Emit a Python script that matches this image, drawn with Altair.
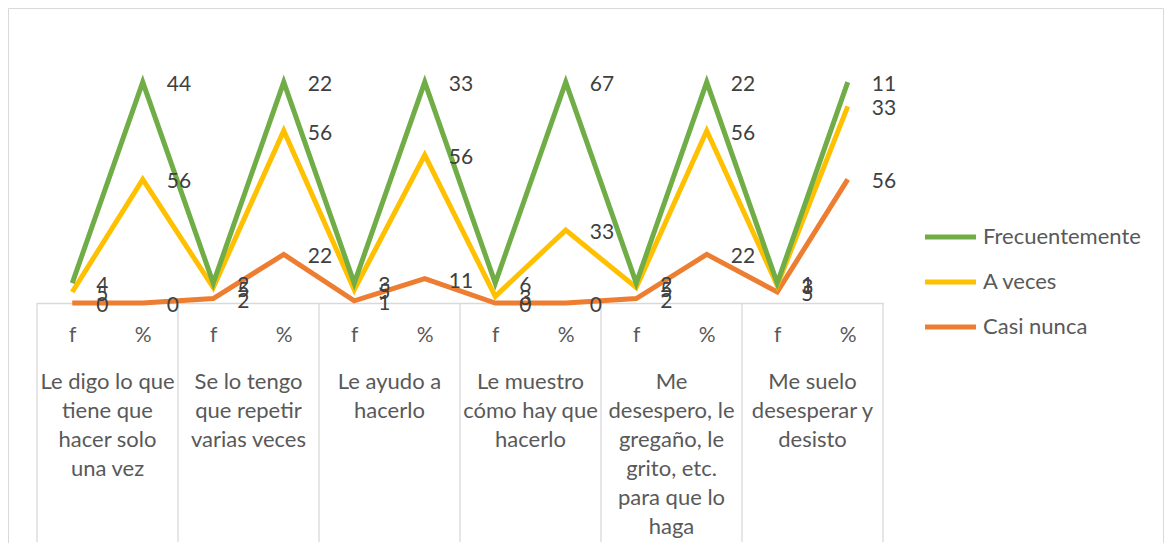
import altair as alt
import pandas as pd

group_labels = [
    "Le digo lo que\ntiene  que\nhacer solo\nuna vez",
    "Se lo tengo\nque repetir\nvarias veces",
    "Le ayudo a\nhacerlo",
    "Le muestro\ncómo hay que\nhacerlo",
    "Me\ndesespero, le\ngregaño, le\ngrito, etc.\npara que lo\nhaga",
    "Me suelo\ndesesperar y\ndesisto",
]
measures = ["f", "%"]
legend_order = ["Frecuentemente", "A veces", "Casi nunca"]
stack_order = ["Casi nunca", "A veces", "Frecuentemente"]
colors = ["#70AD47", "#FFC000", "#ED7D31"]

frecuentemente_f = [4, 2, 3, 6, 2, 1]
frecuentemente_p = [44, 22, 33, 67, 22, 11]
a_veces_f = [5, 5, 5, 3, 5, 3]
a_veces_p = [56, 56, 56, 33, 56, 33]
casi_nunca_f = [0, 2, 1, 0, 2, 5]
casi_nunca_p = [0, 22, 11, 0, 22, 56]

values = {
    "Frecuentemente": (frecuentemente_f, frecuentemente_p),
    "A veces": (a_veces_f, a_veces_p),
    "Casi nunca": (casi_nunca_f, casi_nunca_p),
}

pos_order = [f"{g}|{m}" for g in range(len(group_labels)) for m in measures]

rows = []
for k, s in enumerate(stack_order):
    fv, pv = values[s]
    for g in range(len(group_labels)):
        rows.append({"pos": f"{g}|f", "series": s, "value": fv[g], "order": k})
        rows.append({"pos": f"{g}|%", "series": s, "value": pv[g], "order": k})
df = pd.DataFrame(rows)

grp_df = pd.DataFrame({"pos": [f"{g}|f" for g in range(len(group_labels))], "label": group_labels})
end_df = pd.DataFrame({"pos": [pos_order[-1]]})
leg_df = pd.DataFrame({"series": legend_order})

FONT = "Lato"
TXT = "#595959"
STEP_HALF = 846 / 12 / 2

x_enc = alt.X(
    "pos:N",
    sort=pos_order,
    scale=alt.Scale(type="point", padding=0.5, domain=pos_order),
    axis=alt.Axis(
        title=None,
        labelExpr="split(datum.label, '|')[1]",
        domainColor="#d9d9d9",
        domainWidth=1.3,
        ticks=False,
        labelPadding=32,
        labelBaseline="middle",
        labelFontSize=21,
        labelColor=TXT,
        labelFont=FONT,
        labelAngle=0,
        grid=False,
    ),
)
y_enc = alt.Y("y1:Q", scale=alt.Scale(domain=[0, 120]), axis=None)
color_enc = alt.Color(
    "series:N", scale=alt.Scale(domain=legend_order, range=colors), legend=None
)

base = alt.Chart(df).transform_stack(
    stack="value", groupby=["pos"], as_=["y0", "y1"], sort=[alt.SortField("order", "ascending")]
)

layers = []

frame = alt.Chart(pd.DataFrame({"a": [0]})).mark_rect(
    fillOpacity=0, stroke="#d9d9d9", strokeWidth=1
).encode(
    x=alt.value(-28.5), x2=alt.value(1126.5), y=alt.value(-29.5), y2=alt.value(520)
)
layers.append(frame)

sep = alt.Chart(grp_df).mark_rule(color="#d9d9d9", strokeWidth=1.3, xOffset=-STEP_HALF).encode(
    x=x_enc, y=alt.value(265), y2=alt.value(504)
)
sep_end = alt.Chart(end_df).mark_rule(color="#d9d9d9", strokeWidth=1.3, xOffset=STEP_HALF).encode(
    x=x_enc, y=alt.value(265), y2=alt.value(504)
)
layers += [sep, sep_end]

for s in stack_order:
    layers.append(
        base.transform_filter(alt.datum.series == s)
        .mark_line(strokeWidth=5)
        .encode(x=x_enc, y=y_enc, color=color_enc)
    )

labels = base.mark_text(
    align="left", baseline="middle", dx=24, dy=3, fontSize=21, font=FONT, color="#404040"
).encode(x=x_enc, y=y_enc, text="value:Q")
layers.append(labels)

grp_text = alt.Chart(grp_df).mark_text(
    align="center", baseline="top", lineBreak="\n", lineHeight=29,
    fontSize=22, font=FONT, color=TXT, xOffset=STEP_HALF,
).encode(x=x_enc, y=alt.value(334), text="label:N")
layers.append(grp_text)

leg_y = alt.Y(
    "series:N",
    scale=alt.Scale(type="point", domain=legend_order, range=[199, 289], padding=0),
    axis=None,
)
leg_rule = alt.Chart(leg_df).mark_rule(strokeWidth=5).encode(
    x=alt.value(888), x2=alt.value(939), y=leg_y, color=color_enc
)
leg_text = alt.Chart(leg_df).mark_text(
    align="left", baseline="middle", fontSize=22, font=FONT, color=TXT
).encode(x=alt.value(946), y=leg_y, text="series:N")
layers += [leg_rule, leg_text]

chart = alt.layer(*layers).resolve_scale(y="independent").properties(
    width=846,
    height=265,
    autosize=alt.AutoSizeParams(type="none"),
    padding={"left": 29, "top": 30, "right": 283, "bottom": 240},
).configure_view(stroke=None)

chart.save("out.html", embed_options={"renderer": "svg", "actions": False})
